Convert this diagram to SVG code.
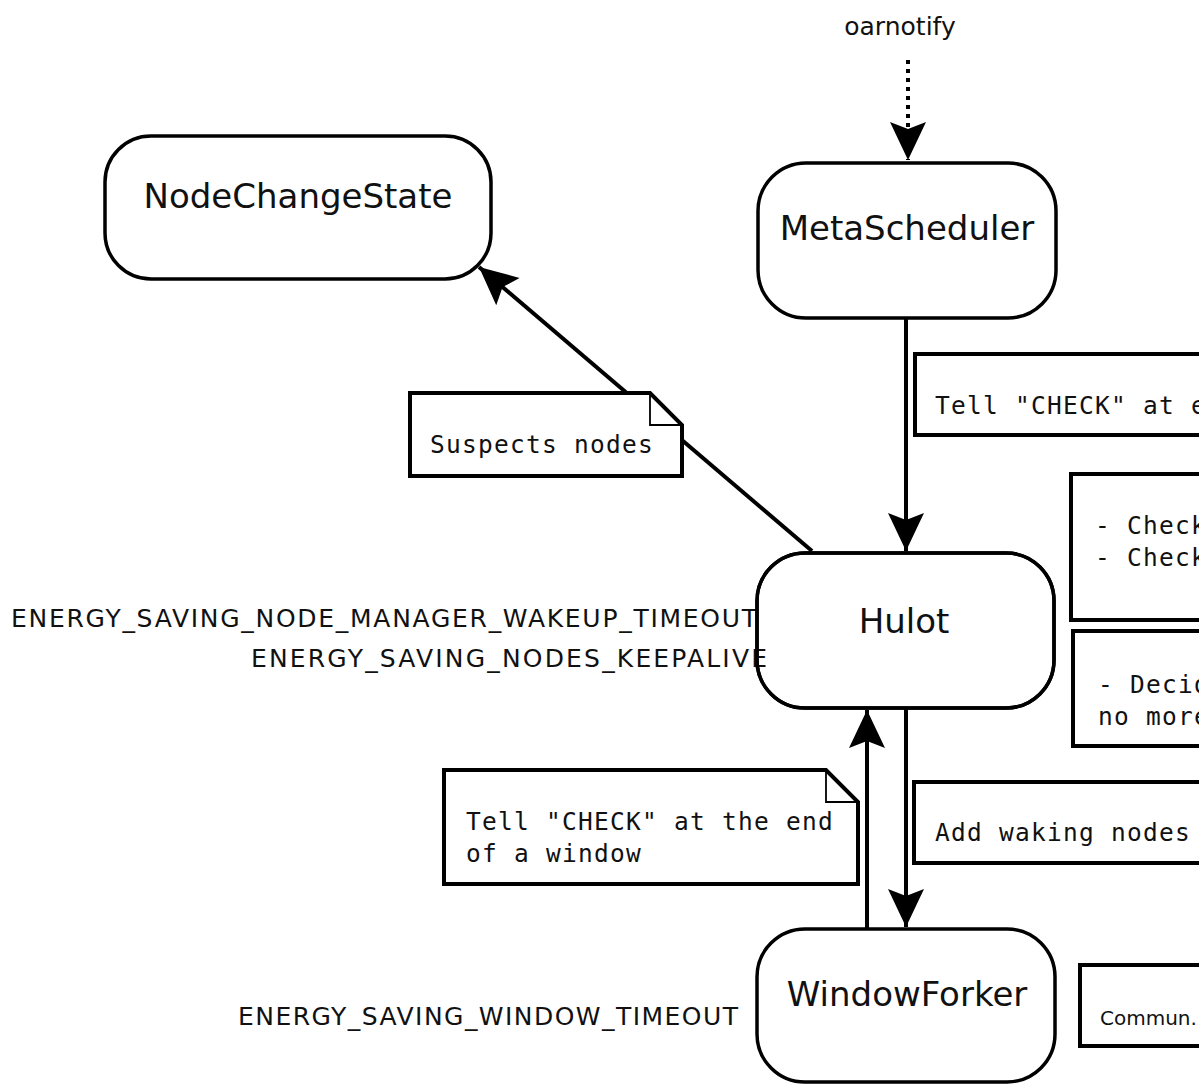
<svg xmlns="http://www.w3.org/2000/svg" width="1199" height="1084" viewBox="0 0 1199 1084">
  <style>
    .node { fill: #fff; stroke: #000; stroke-width: 3.5; }
    .ntext { font-family: "DejaVu Sans", "Bitstream Vera Sans", sans-serif; font-size: 34px; fill: #111; text-anchor: middle; }
    .param { font-family: "DejaVu Sans", sans-serif; font-size: 25px; fill: #111; }
    .small { font-size: 20px; }
    .note { fill: #fff; stroke: #000; stroke-width: 4; stroke-linejoin: miter; }
    .fold { fill: none; stroke: #000; stroke-width: 1.8; }
    .mono { font-family: "DejaVu Sans Mono", "Liberation Mono", monospace; font-size: 24.5px; letter-spacing: 1.25px; fill: #111; }
    .edge { fill: none; stroke: #000; stroke-width: 4; }
  </style>
  <defs>
    <marker id="head" markerUnits="userSpaceOnUse" viewBox="-42 -20 44 40" markerWidth="44" markerHeight="40" refX="0" refY="0" orient="auto">
      <path d="M0,0 L-38,-18 L-31,0 L-38,18 Z" fill="#000"/>
    </marker>
  </defs>
  <rect width="1199" height="1084" fill="#fff"/>

  <!-- connectors -->
  <g id="connectors">
    <path class="edge" d="M908,60 L908,160" stroke-dasharray="4 5" marker-end="url(#head)"/>
    <path class="edge" d="M906,319 L906,551" marker-end="url(#head)"/>
    <path class="edge" d="M812,551 L479,267" marker-end="url(#head)"/>
    <path class="edge" d="M906,708 L906,927" marker-end="url(#head)"/>
    <path class="edge" d="M867,929 L867,710" marker-end="url(#head)"/>
  </g>

  <!-- nodes -->
  <g id="NodeChangeState">
    <rect class="node" x="105" y="136" width="386" height="143" rx="46" ry="46"/>
    <text class="ntext" x="298" y="208">NodeChangeState</text>
  </g>
  <g id="MetaScheduler">
    <rect class="node" x="758" y="163" width="298" height="155" rx="48" ry="48"/>
    <text class="ntext" x="907" y="240">MetaScheduler</text>
  </g>
  <g id="Hulot">
    <rect class="node" x="757" y="553" width="297" height="155" rx="48" ry="48"/>
    <text class="ntext" x="904" y="633">Hulot</text>
  </g>
  <g id="WindowForker">
    <rect class="node" x="757" y="929" width="298" height="153" rx="48" ry="48"/>
    <text class="ntext" x="907" y="1006">WindowForker</text>
  </g>

  <!-- external trigger -->
  <g id="oarnotify">
    <text class="param" x="900" y="35" text-anchor="middle">oarnotify</text>
  </g>

  <!-- configuration parameters -->
  <g id="params">
    <text class="param" x="11" y="627" textLength="746" lengthAdjust="spacing">ENERGY_SAVING_NODE_MANAGER_WAKEUP_TIMEOUT</text>
    <text class="param" x="251" y="667" textLength="516" lengthAdjust="spacing">ENERGY_SAVING_NODES_KEEPALIVE</text>
    <text class="param" x="238" y="1025" textLength="500" lengthAdjust="spacing">ENERGY_SAVING_WINDOW_TIMEOUT</text>
  </g>
  <!-- redraw Hulot border over the clipped label end -->
  <rect x="757" y="553" width="297" height="155" rx="48" ry="48" fill="none" stroke="#000" stroke-width="3.5"/>

  <!-- notes -->
  <g id="note-suspects">
    <path class="note" d="M410,393 L650,393 L682,425 L682,476 L410,476 Z"/>
    <path class="fold" d="M650,393 L650,425 L682,425"/>
    <text class="mono" x="430" y="453">Suspects nodes</text>
  </g>
  <g id="note-window">
    <path class="note" d="M444,770 L826,770 L858,802 L858,884 L444,884 Z"/>
    <path class="fold" d="M826,770 L826,802 L858,802"/>
    <text class="mono" x="466" y="830">Tell "CHECK" at the end</text>
    <text class="mono" x="466" y="862">of a window</text>
  </g>
  <g id="note-meta">
    <rect class="note" x="915" y="354" width="300" height="81"/>
    <text class="mono" x="935" y="414">Tell "CHECK" at e</text>
  </g>
  <g id="note-check">
    <rect class="note" x="1071" y="474" width="150" height="146"/>
    <text class="mono" x="1095" y="534">- Check</text>
    <text class="mono" x="1095" y="566">- Check</text>
  </g>
  <g id="note-decide">
    <rect class="note" x="1073" y="631" width="150" height="115"/>
    <text class="mono" x="1098" y="693">- Decid</text>
    <text class="mono" x="1098" y="725">no more</text>
  </g>
  <g id="note-waking">
    <rect class="note" x="914" y="782" width="300" height="81"/>
    <text class="mono" x="935" y="841">Add waking nodes</text>
  </g>
  <g id="note-commun">
    <rect class="note" x="1080" y="965" width="140" height="81"/>
    <text class="param small" x="1100" y="1025">Commun.</text>
  </g>
</svg>
